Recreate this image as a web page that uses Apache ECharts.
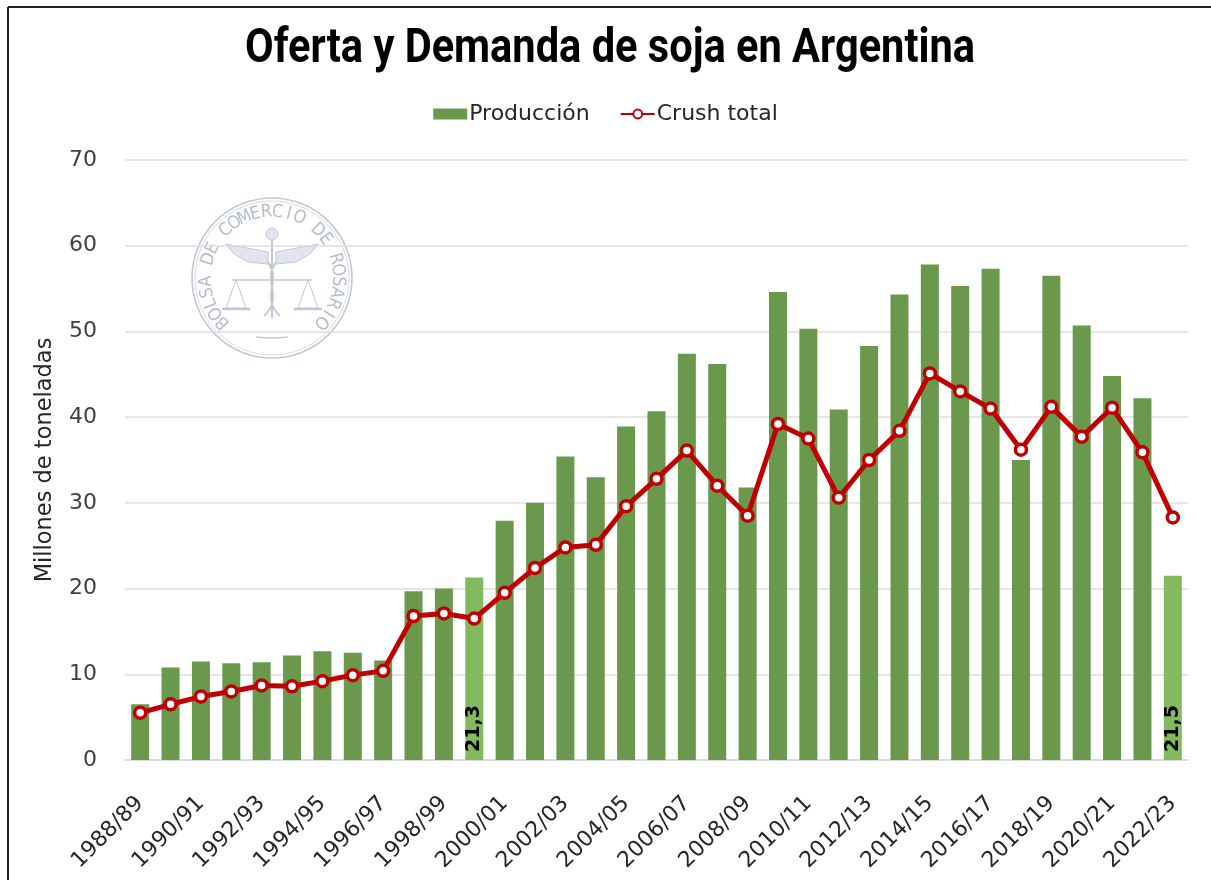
<!DOCTYPE html>
<html>
<head>
<meta charset="utf-8">
<script src="https://cdn.jsdelivr.net/npm/echarts@6/dist/echarts.min.js"></script>
<style>html,body{margin:0;padding:0;background:#fff}#c{width:1211px;height:880px}</style>
</head>
<body>
<div id="c"></div>
<script>
const categories = ["1988/89","1989/90","1990/91","1991/92","1992/93","1993/94","1994/95","1995/96","1996/97","1997/98","1998/99","1999/00","2000/01","2001/02","2002/03","2003/04","2004/05","2005/06","2006/07","2007/08","2008/09","2009/10","2010/11","2011/12","2012/13","2013/14","2014/15","2015/16","2016/17","2017/18","2018/19","2019/20","2020/21","2021/22","2022/23"];
const produccion = [6.5,10.8,11.5,11.3,11.4,12.2,12.7,12.5,11.6,19.7,20.0,21.3,27.9,30.0,35.4,33.0,38.9,40.7,47.4,46.2,31.8,54.6,50.3,40.9,48.3,54.3,57.8,55.3,57.3,35.0,56.5,50.7,44.8,42.2,21.5];
const crush = [5.5,6.5,7.4,8.0,8.7,8.6,9.2,9.9,10.4,16.8,17.1,16.5,19.5,22.4,24.8,25.1,29.6,32.8,36.1,32.0,28.5,39.2,37.5,30.6,35.0,38.4,45.1,43.0,41.0,36.2,41.2,37.7,41.1,35.9,28.3];
const highlighted = [11, 34];
const labelTexts = {11: "21,3", 34: "21,5"};
const yTicks = {min: 0, max: 70, interval: 10};
const titleText = 'Oferta y Demanda de soja en Argentina';

const GREEN = '#6A994E', LIGHT = '#83BA5E', RED = '#C00000';
const FONT = '"DejaVu Sans"';
const barData = produccion.map((v, i) => highlighted.includes(i) ? {
  value: v,
  itemStyle: {color: LIGHT},
  label: {show: true, formatter: labelTexts[i]}
} : v);

// condensed bold title: measure and squeeze horizontally to the reference width
const titleFont = 'bold 48px Roboto';
const mctx = document.createElement('canvas').getContext('2d');
mctx.font = titleFont;
const titleScale = 730 / mctx.measureText(titleText).width;

// watermark seal (decoration)
const sealCx = 272, sealCy = 278, SC = '#c3c8d6';
const sealText = "BOLSA DE COMERCIO DE ROSARIO";
const sealEls = [
  {type:'circle', shape:{cx:sealCx, cy:sealCy, r:80}, style:{fill:'none', stroke:SC, lineWidth:1.6}},
  {type:'circle', shape:{cx:sealCx, cy:sealCy, r:77}, style:{fill:'none', stroke:'#d6dae4', lineWidth:1}},
  {type:'arc', shape:{cx:sealCx, cy:sealCy-60, r:120, startAngle:Math.PI/2-0.13, endAngle:Math.PI/2+0.13}, style:{fill:'none', stroke:SC, lineWidth:1.5}},
  {type:'line', shape:{x1:sealCx, y1:sealCy-40, x2:sealCx, y2:sealCy+40}, style:{stroke:SC, lineWidth:2}},
  {type:'bezierCurve', shape:{x1:sealCx-8, y1:sealCy-20, x2:sealCx+8, y2:sealCy+38, cpx1:sealCx+14, cpy1:sealCy, cpx2:sealCx-14, cpy2:sealCy+18}, style:{fill:'none', stroke:SC, lineWidth:2}},
  {type:'bezierCurve', shape:{x1:sealCx+8, y1:sealCy-20, x2:sealCx-8, y2:sealCy+38, cpx1:sealCx-14, cpy1:sealCy, cpx2:sealCx+14, cpy2:sealCy+18}, style:{fill:'none', stroke:SC, lineWidth:2}},
  {type:'line', shape:{x1:sealCx-40, y1:sealCy+2, x2:sealCx+40, y2:sealCy+2}, style:{stroke:SC, lineWidth:1.5}},
  {type:'polygon', shape:{points:[[sealCx-36,sealCy+2],[sealCx-46,sealCy+30],[sealCx-26,sealCy+30]]}, style:{fill:'none', stroke:SC, lineWidth:1}},
  {type:'polygon', shape:{points:[[sealCx+36,sealCy+2],[sealCx+26,sealCy+30],[sealCx+46,sealCy+30]]}, style:{fill:'none', stroke:SC, lineWidth:1}},
  {type:'line', shape:{x1:sealCx-50, y1:sealCy+31, x2:sealCx-22, y2:sealCy+31}, style:{stroke:SC, lineWidth:2.5}},
  {type:'line', shape:{x1:sealCx+22, y1:sealCy+31, x2:sealCx+50, y2:sealCy+31}, style:{stroke:SC, lineWidth:2.5}},
  {type:'polygon', shape:{points:[[sealCx-4,sealCy-26],[sealCx-46,sealCy-34],[sealCx-38,sealCy-24],[sealCx-24,sealCy-16],[sealCx-4,sealCy-14]]}, style:{fill:'#e2e5ee', stroke:SC, lineWidth:1}},
  {type:'polygon', shape:{points:[[sealCx+4,sealCy-26],[sealCx+46,sealCy-34],[sealCx+38,sealCy-24],[sealCx+24,sealCy-16],[sealCx+4,sealCy-14]]}, style:{fill:'#e2e5ee', stroke:SC, lineWidth:1}},
  {type:'circle', shape:{cx:sealCx, cy:sealCy-44, r:6}, style:{fill:'#e2e5ee', stroke:SC}}
];
const startA = -132, endA = 132;
for (let k = 0; k < sealText.length; k++) {
  const a = (startA + (endA - startA) * k / (sealText.length - 1)) * Math.PI / 180;
  const r = 66;
  sealEls.push({
    type:'text', x: sealCx + r*Math.sin(a), y: sealCy - r*Math.cos(a), rotation: -a,
    style:{text: sealText[k], fill:'#b7bdcd', font:'18px "DejaVu Sans Condensed", "DejaVu Sans"', align:'center', verticalAlign:'middle'}
  });
}

const chart = echarts.init(document.getElementById('c'), null, {renderer:'canvas'});
chart.setOption({
  backgroundColor:'#fff',
  animation:false,
  legend:{
    top:98, left:'center', itemWidth:34, itemHeight:11, itemGap:30,
    textStyle:{fontFamily:FONT, fontSize:22, color:'#262626', padding:[0,0,0,-3]},
    data:[{name:'Producción', icon:'rect'}, {name:'Crush total'}]
  },
  grid:{left:125, right:23, top:160, bottom:120},
  xAxis:{
    type:'category', data:categories, boundaryGap:true,
    axisLine:{show:true, lineStyle:{color:'#d9d9d9', width:1.5}},
    axisTick:{show:false},
    axisLabel:{interval:1, rotate:45, color:'#262626', fontFamily:FONT, fontSize:22, margin:40}
  },
  yAxis:{
    type:'value', min:yTicks.min, max:yTicks.max, interval:yTicks.interval,
    name:'Millones de toneladas', nameLocation:'middle', nameGap:68,
    nameTextStyle:{fontFamily:FONT, fontSize:22.5, color:'#262626'},
    axisLine:{show:false}, axisTick:{show:false},
    axisLabel:{color:'#404040', fontFamily:FONT, fontSize:22, margin:28},
    splitLine:{lineStyle:{color:'#dedede', width:1.5}}
  },
  graphic:[
    {type:'group', children:sealEls, z:-10, silent:true},
    {type:'text', x:610, y:50, scaleX:titleScale, scaleY:1,
      style:{text:titleText, font:titleFont, fill:'#000', align:'center', verticalAlign:'middle'}, z:100},
    {type:'line', shape:{x1:8, y1:7, x2:1211, y2:7}, style:{stroke:'#222', lineWidth:2}, z:100},
    {type:'line', shape:{x1:8, y1:7, x2:8, y2:880}, style:{stroke:'#222', lineWidth:2}, z:100}
  ],
  series:[
    {
      name:'Producción', type:'bar', data:barData, barWidth:18,
      itemStyle:{color:GREEN},
      label:{show:false, position:'insideBottom', rotate:90, align:'left', verticalAlign:'middle', distance:8,
        color:'#000', fontWeight:'bold', fontFamily:FONT, fontSize:19},
      z:2
    },
    {
      name:'Crush total', type:'line', data:crush,
      symbol:'circle', symbolSize:11, showAllSymbol:true,
      lineStyle:{color:RED, width:5},
      itemStyle:{color:'#fff', borderColor:RED, borderWidth:3.5},
      z:3
    }
  ]
});
</script>
</body>
</html>
